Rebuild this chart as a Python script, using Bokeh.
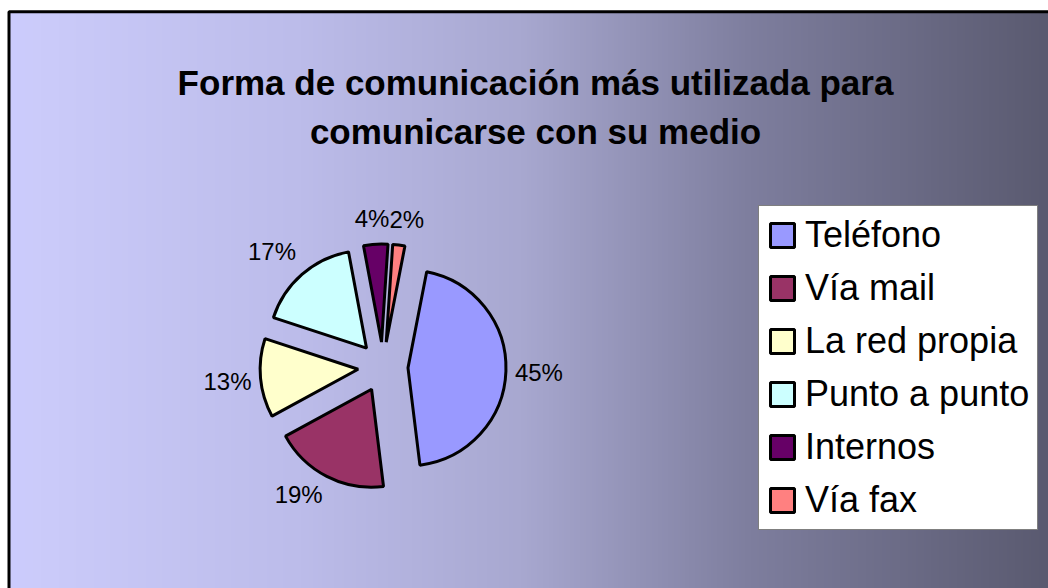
import numpy as np
from bokeh.plotting import figure
from bokeh.models import ColumnDataSource, Range1d, BoxAnnotation
from bokeh.core.properties import value
from bokeh.embed import file_html
from bokeh.resources import INLINE

# ---------------- data ----------------
categories = ["Teléfono", "Vía mail", "La red propia", "Punto a punto", "Internos", "Vía fax"]
percent = [45, 19, 13, 17, 4, 2]
colors = ["#9999FF", "#993366", "#FFFFCC", "#CCFFFF", "#660066", "#FF8080"]
title_lines = ["Forma de comunicación más utilizada para", "comunicarse con su medio"]

# ---------------- layout / style ----------------
W, H = 1048, 588
FONT = "Liberation Sans"
FIRST_ANGLE = 11.0      # degrees, clockwise from 12 o'clock
CX, CY = 382.5, 221.5   # pie centre (data units = pixels, y up)
R = 98
EXPLODE = 25
LABEL_PX = 24
LABEL_H = 33
LABEL_GAP = 9

vals = np.array(percent, dtype=float)
frac = vals / vals.sum()
theta_end = FIRST_ANGLE + np.cumsum(frac) * 360.0
theta_start = theta_end - frac * 360.0
theta_mid = (theta_start + theta_end) / 2.0
phi = np.radians(90.0 - theta_mid)
ux, uy = np.cos(phi), np.sin(phi)
wx = CX + EXPLODE * ux
wy = CY + EXPLODE * uy

src = ColumnDataSource(dict(
    cat=categories, color=colors, x=wx, y=wy,
    start=np.radians(90.0 - theta_end), end=np.radians(90.0 - theta_start),
))

# label positions (outside end, box-aware), then resolve overlaps
labels = [f"{v}%" for v in percent]
lw = np.array([LABEL_PX * (0.556 * (len(t) - 1) + 0.889) for t in labels])
s = lambda t: np.clip(3.0 * t, -1.0, 1.0)
lx = wx + (R + LABEL_GAP) * ux + lw / 2.0 * s(ux)
ly = wy + (R + LABEL_GAP) * uy + LABEL_H / 2.0 * np.where(uy > 0, s(uy), 0.6 * s(uy))
for _ in range(5):
    for i in range(len(lx)):
        for j in range(i + 1, len(lx)):
            ox = (lw[i] + lw[j]) / 2.0 - abs(lx[i] - lx[j])
            oy = LABEL_H - abs(ly[i] - ly[j])
            if ox > 0 and oy > 0:
                sgn = 1.0 if lx[j] >= lx[i] else -1.0
                lx[i] -= sgn * ox / 2.0
                lx[j] += sgn * ox / 2.0
lsrc = ColumnDataSource(dict(x=lx, y=ly, text=labels))

p = figure(width=W, height=H, x_range=Range1d(0, W), y_range=Range1d(0, H),
           output_backend="svg", toolbar_location=None, min_border=0,
           x_axis_location=None, y_axis_location=None)
p.grid.visible = False
p.outline_line_color = None
p.background_fill_color = "white"
p.border_fill_color = "white"

# horizontal gradient background
BORDER_X, BORDER_TOP = 8.5, 576.75
stop_x = np.array([0, 40, 300, 520, 750, 1048], dtype=float)
stop_c = np.array([[204, 204, 255], [203, 203, 250], [188, 188, 234],
                   [168, 168, 208], [126, 126, 158], [90, 90, 112]], dtype=float)
N = 524
gx = np.linspace(BORDER_X, W, N)
img = np.empty((1, N), dtype=np.uint32)
view = img.view(dtype=np.uint8).reshape((1, N, 4))
for k in range(3):
    view[0, :, k] = np.interp(gx, stop_x, stop_c[:, k]).astype(np.uint8)
view[0, :, 3] = 255
p.image_rgba(image=[img], x=BORDER_X, y=0, dw=W - BORDER_X, dh=BORDER_TOP)

p.add_layout(BoxAnnotation(left=BORDER_X, right=W + 20, bottom=-20, top=BORDER_TOP,
                           fill_alpha=0, line_color="black", line_alpha=1.0,
                           line_width=3))

# title
tsrc = ColumnDataSource(dict(x=[535, 535], y=[506, 457], text=title_lines))
p.text(x="x", y="y", text="text", source=tsrc, text_font=value(FONT),
       text_font_style="bold", text_font_size="35px", text_color="black",
       text_align="center", text_baseline="middle")

# pie
p.wedge(x="x", y="y", radius=R, start_angle="start", end_angle="end",
        direction="anticlock", fill_color="color", line_color="black",
        line_width=3, source=src, legend_field="cat")

p.text(x="x", y="y", text="text", source=lsrc, text_font=value(FONT),
       text_font_size=f"{LABEL_PX}px", text_color="black",
       text_align="center", text_baseline="middle")

leg = p.legend[0]
leg.location = (758, 58)
leg.margin = 0
leg.padding = 8
leg.spacing = 11
leg.glyph_width = 30
leg.glyph_height = 30
leg.label_height = 41
leg.label_standoff = 8
leg.label_text_font = FONT
leg.label_text_font_size = "36px"
leg.label_text_color = "black"
leg.border_line_color = "black"
leg.border_line_width = 1
leg.background_fill_color = "white"
leg.background_fill_alpha = 1.0

open("out.html", "w").write(file_html(p, INLINE))
